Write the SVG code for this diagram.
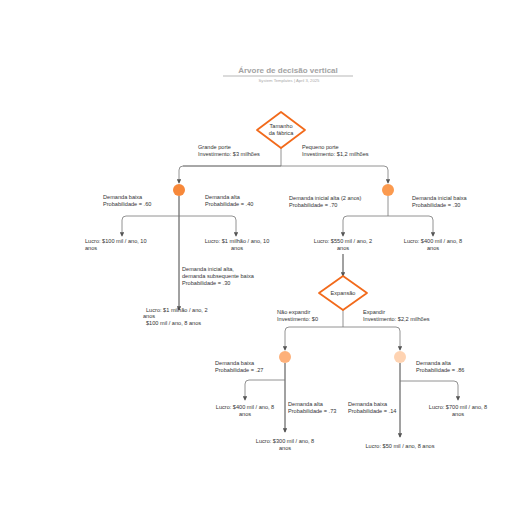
<svg xmlns="http://www.w3.org/2000/svg" width="516" height="516" viewBox="0 0 516 516">
<style>
text{font-family:"Liberation Sans",Arial,sans-serif;font-size:5.6px;fill:#333}
.c{text-anchor:middle}
.title{font-size:8px;font-weight:bold;fill:#a3a3a3}
.sub{font-size:4.2px;fill:#aaa}
.dia{fill:#fff;stroke:#f26a1b;stroke-width:1.8;stroke-linejoin:round}
.ln{fill:none;stroke:#777;stroke-width:0.8}
.main{fill:none;stroke:#444;stroke-width:1}
</style>
<defs>
<marker id="ah" viewBox="0 0 6 6" refX="5" refY="3" markerWidth="4.5" markerHeight="4.5" orient="auto" markerUnits="userSpaceOnUse">
<path d="M0,0 L6,3 L0,6 z" fill="#555"/>
</marker>
</defs>
<rect width="516" height="516" fill="#fff"/>
<g id="title">
<text class="title c" x="288" y="73">Árvore de decisão vertical</text>
<line x1="223" y1="76" x2="353" y2="76" stroke="#888" stroke-width="0.6"/>
<text class="sub c" x="289" y="82">System Templates  |  April 3, 2025</text>
</g>
<g id="connectors">
<path class="ln" d="M281,148 V166"/>
<path class="ln" d="M183,166 H384 Q388,166 388,170 V183" marker-end="url(#ah)"/>
<path class="ln" d="M281,166 H183 Q179,166 179,170 V183" marker-end="url(#ah)"/>
<path class="main" d="M179,196 V310" marker-end="url(#ah)"/>
<path class="ln" d="M179,216 H126 Q122,216 122,220 V236" marker-end="url(#ah)"/>
<path class="ln" d="M179,216 H232 Q236,216 236,220 V236" marker-end="url(#ah)"/>
<path class="ln" d="M388,196 V216"/>
<path class="ln" d="M388,216 H347 Q343,216 343,220 V236" marker-end="url(#ah)"/>
<path class="ln" d="M388,216 H429 Q433,216 433,220 V236" marker-end="url(#ah)"/>
<path class="main" d="M343,254 V276" marker-end="url(#ah)"/>
<path class="ln" d="M343,310 V327"/>
<path class="ln" d="M343,327 H289 Q285,327 285,331 V350" marker-end="url(#ah)"/>
<path class="ln" d="M343,327 H396 Q400,327 400,331 V350" marker-end="url(#ah)"/>
<path class="main" d="M285,363 V432" marker-end="url(#ah)"/>
<path class="ln" d="M285,380 H249 Q245,380 245,384 V400" marker-end="url(#ah)"/>
<path class="main" d="M400,363 V437" marker-end="url(#ah)"/>
<path class="ln" d="M400,381 H454 Q458,381 458,385 V400" marker-end="url(#ah)"/>
</g>
<g id="decision1">
<path class="dia" d="M281,112 L305,130 L281,148 L257,130 Z"/>
<text class="c" x="281" y="128">Tamanho</text>
<text class="c" x="281" y="135">da fábrica</text>
</g>
<g id="lbl-grande">
<text x="198" y="149">Grande porte</text>
<text x="198" y="156">Investimento: $3 milhões</text>
</g>
<g id="lbl-pequeno">
<text x="302" y="149">Pequeno porte</text>
<text x="302" y="156">Investimento: $1,2 milhões</text>
</g>
<g id="chance1"><circle cx="179" cy="190" r="6" fill="#f7883a"/></g>
<g id="chance2"><circle cx="388" cy="190" r="6" fill="#fb9a4f"/></g>
<g id="lbl-c1-baixa">
<text x="103" y="199">Demanda baixa</text>
<text x="103" y="206">Probabilidade = .60</text>
</g>
<g id="lbl-c1-alta">
<text x="205" y="199">Demanda alta</text>
<text x="205" y="206">Probabilidade = .40</text>
</g>
<g id="leaf1">
<text x="85" y="243">Lucro: $100 mil / ano, 10</text>
<text x="85" y="250">anos</text>
</g>
<g id="leaf2">
<text class="c" x="237" y="243">Lucro: $1 milhão  / ano, 10</text>
<text class="c" x="237" y="250">anos</text>
</g>
<g id="lbl-c1-sub">
<text x="182" y="271">Demanda inicial alta,</text>
<text x="182" y="278">demanda subsequente baixa</text>
<text x="182" y="285">Probabilidade = .30</text>
</g>
<g id="leaf3">
<text x="146" y="312">Lucro: $1 milhão / ano, 2</text>
<text x="143" y="318">anos</text>
<text x="146" y="325">$100 mil / ano, 8 anos</text>
</g>
<g id="lbl-c2-alta">
<text x="289" y="200">Demanda inicial alta (2 anos)</text>
<text x="289" y="207">Probabilidade = .70</text>
</g>
<g id="lbl-c2-baixa">
<text x="412" y="200">Demanda inicial baixa</text>
<text x="412" y="207">Probabilidade = .30</text>
</g>
<g id="leaf4">
<text class="c" x="343" y="243">Lucro: $550 mil / ano, 2</text>
<text class="c" x="343" y="250">anos</text>
</g>
<g id="leaf5">
<text class="c" x="433" y="243">Lucro: $400 mil / ano, 8</text>
<text class="c" x="433" y="250">anos</text>
</g>
<g id="decision2">
<path class="dia" d="M343,276 L367,293 L343,310 L319,293 Z"/>
<text class="c" x="343" y="295">Expansão</text>
</g>
<g id="lbl-nao">
<text x="277" y="314">Não expandir</text>
<text x="277" y="321">Investimento: $0</text>
</g>
<g id="lbl-expandir">
<text x="363" y="314">Expandir</text>
<text x="363" y="321">Investimento: $2,2 milhões</text>
</g>
<g id="chance3"><circle cx="285" cy="357" r="6" fill="#fdb07a"/></g>
<g id="chance4"><circle cx="400" cy="357" r="6" fill="#fed3b2"/></g>
<g id="lbl-c3-baixa">
<text x="215" y="365">Demanda baixa</text>
<text x="215" y="372">Probabilidade = .27</text>
</g>
<g id="lbl-c3-alta">
<text x="288" y="406">Demanda alta</text>
<text x="288" y="413">Probabilidade = .73</text>
</g>
<g id="leaf6">
<text class="c" x="245" y="409">Lucro: $400 mil / ano, 8</text>
<text class="c" x="245" y="416">anos</text>
</g>
<g id="leaf7">
<text class="c" x="285" y="443">Lucro: $300 mil / ano, 8</text>
<text class="c" x="285" y="450">anos</text>
</g>
<g id="lbl-c4-alta">
<text x="416" y="365">Demanda alta</text>
<text x="416" y="372">Probabilidade = .86</text>
</g>
<g id="lbl-c4-baixa">
<text x="348" y="406">Demanda baixa</text>
<text x="348" y="413">Probabilidade = .14</text>
</g>
<g id="leaf8">
<text class="c" x="458" y="409">Lucro: $700 mil / ano, 8</text>
<text class="c" x="458" y="416">anos</text>
</g>
<g id="leaf9">
<text class="c" x="400" y="448">Lucro: $50 mil / ano, 8 anos</text>
</g>
</svg>
